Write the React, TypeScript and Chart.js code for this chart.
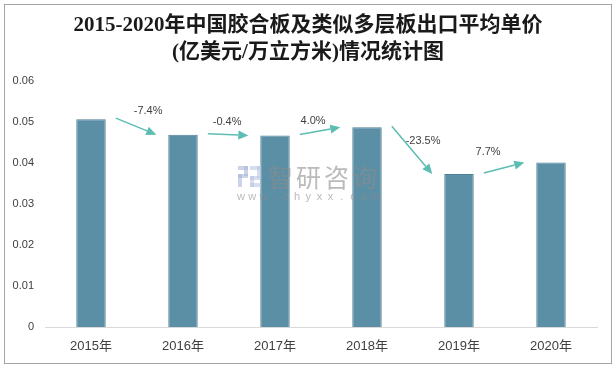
import React, { useEffect, useRef } from 'react';
import { Chart, registerables } from 'chart.js';

Chart.register(...registerables);

const titleLines = ['2015-2020年中国胶合板及类似多层板出口平均单价', '(亿美元/万立方米)情况统计图'];
const categories = ['2015年', '2016年', '2017年', '2018年', '2019年', '2020年'];
const prices = [0.0507, 0.0469, 0.0467, 0.0487, 0.0373, 0.0401];
const growthLabels = ['-7.4%', '-0.4%', '4.0%', '-23.5%', '7.7%'];
const yMin = 0;
const yMax = 0.06;
const yStep = 0.01;

const SANS = '"Liberation Sans", "Noto Sans CJK SC", sans-serif';
const SERIF = '"Liberation Serif", "Noto Sans CJK SC", serif';
const ARROW_COLOR = '#5CBDB3';
const LABEL_NUDGE: [number, number][] = [[12, -15], [-1, -13], [-7, -10], [11, -9], [-16, -16]];

const framePlugin = {
  id: 'frame',
  beforeDraw(chart: any) {
    const ctx = chart.ctx;
    ctx.save();
    ctx.fillStyle = '#ffffff';
    ctx.fillRect(0, 0, chart.width, chart.height);
    ctx.strokeStyle = '#A6A6A6';
    ctx.lineWidth = 1;
    ctx.strokeRect(4.5, 4.5, chart.width - 9, chart.height - 9);
    ctx.fillStyle = '#1a1a1a';
    ctx.font = `bold 21px ${SERIF}`;
    ctx.textAlign = 'center';
    ctx.textBaseline = 'middle';
    ctx.fillText(titleLines[0], chart.width / 2, 26);
    ctx.fillText(titleLines[1], chart.width / 2, 53);
    ctx.restore();
  },
};

const arrowPlugin = {
  id: 'arrows',
  afterDatasetsDraw(chart: any) {
    const ctx = chart.ctx;
    const xs = chart.scales.x;
    const ys = chart.scales.y;
    const catW = xs.getPixelForValue(1) - xs.getPixelForValue(0);
    ctx.save();
    for (let i = 0; i < growthLabels.length; i++) {
      const x1 = xs.getPixelForValue(i) + 0.27 * catW;
      const y1 = ys.getPixelForValue(prices[i]) - 1;
      const x2 = xs.getPixelForValue(i + 1) - 0.29 * catW;
      const y2 = ys.getPixelForValue(prices[i + 1]);
      const ang = Math.atan2(y2 - y1, x2 - x1);
      const hl = 10;
      const hw = 4.5;
      const bx = x2 - hl * Math.cos(ang);
      const by = y2 - hl * Math.sin(ang);
      ctx.strokeStyle = ARROW_COLOR;
      ctx.fillStyle = ARROW_COLOR;
      ctx.lineWidth = 1.5;
      ctx.beginPath();
      ctx.moveTo(x1, y1);
      ctx.lineTo(bx, by);
      ctx.stroke();
      ctx.beginPath();
      ctx.moveTo(x2, y2);
      ctx.lineTo(bx + hw * Math.sin(ang), by - hw * Math.cos(ang));
      ctx.lineTo(bx - hw * Math.sin(ang), by + hw * Math.cos(ang));
      ctx.closePath();
      ctx.fill();
      const mx = (x1 + x2) / 2 + LABEL_NUDGE[i][0];
      const my = (y1 + y2) / 2 + LABEL_NUDGE[i][1];
      ctx.fillStyle = '#404040';
      ctx.font = `11px ${SANS}`;
      ctx.textAlign = 'center';
      ctx.textBaseline = 'middle';
      ctx.fillText(growthLabels[i], mx, my);
    }
    ctx.restore();
  },
};

const watermarkPlugin = {
  id: 'watermark',
  afterDatasetsDraw(chart: any) {
    const ctx = chart.ctx;
    ctx.save();
    ctx.globalAlpha = 0.6;
    ctx.fillStyle = '#A9B8D8';
    ctx.fillRect(238, 166, 10, 4);
    ctx.fillRect(244, 166, 4, 10);
    ctx.fillRect(238, 174, 10, 4);
    ctx.fillRect(238, 174, 4, 13);
    ctx.fillStyle = '#B9C6E2';
    ctx.fillRect(250, 166, 11, 4);
    ctx.fillRect(257, 166, 4, 12);
    ctx.fillRect(250, 176, 11, 4);
    ctx.fillRect(250, 176, 4, 11);
    ctx.fillRect(250, 183, 11, 4);
    ctx.fillStyle = '#8C8C8C';
    ctx.font = `25px "Noto Sans CJK SC", sans-serif`;
    ctx.textAlign = 'left';
    ctx.textBaseline = 'middle';
    const chars = ['智', '研', '咨', '询'];
    chars.forEach((c, k) => ctx.fillText(c, 268 + k * 28, 177));
    ctx.font = `11px ${SANS}`;
    ctx.textAlign = 'center';
    const site = 'www.chyxx.com';
    for (let k = 0; k < site.length; k++) {
      ctx.fillText(site[k], 241 + k * 11.2, 197);
    }
    ctx.restore();
  },
};

export default function App() {
  const ref = useRef<HTMLCanvasElement>(null);
  useEffect(() => {
    document.body.style.margin = '0';
    const chart = new Chart(ref.current as HTMLCanvasElement, {
      type: 'bar',
      data: {
        labels: categories,
        datasets: [
          {
            data: prices,
            backgroundColor: '#5B8FA6',
            borderColor: '#4E7F96',
            borderWidth: 1,
            barPercentage: 0.32,
            categoryPercentage: 1,
          },
        ],
      },
      options: {
        animation: false,
        responsive: true,
        maintainAspectRatio: false,
        layout: { padding: { top: 81, left: 4, right: 19, bottom: 11 } },
        plugins: {
          legend: { display: false },
          title: { display: false },
          tooltip: { enabled: false },
        },
        scales: {
          x: {
            grid: { display: false, drawTicks: false },
            border: { display: true, color: '#D9D9D9', width: 1 },
            ticks: { color: '#404040', font: { family: SANS, size: 13 }, padding: 12, maxRotation: 0 },
            afterFit: (s: any) => { s.height = 30; },
          },
          y: {
            min: yMin,
            max: yMax,
            grid: { display: false, drawTicks: false },
            border: { display: false },
            ticks: {
              stepSize: yStep,
              color: '#404040',
              font: { family: SANS, size: 11 },
              padding: 11,
              callback: (v: any) => (Number(v) === 0 ? '0' : Number(v).toFixed(2)),
            },
            afterFit: (s: any) => { s.width = 41; },
          },
        },
      },
      plugins: [framePlugin, arrowPlugin, watermarkPlugin],
    });
    return () => chart.destroy();
  }, []);
  return (
    <div style={{ width: 616, height: 368, position: 'relative' }}>
      <canvas ref={ref} style={{ display: 'block' }} />
    </div>
  );
}
